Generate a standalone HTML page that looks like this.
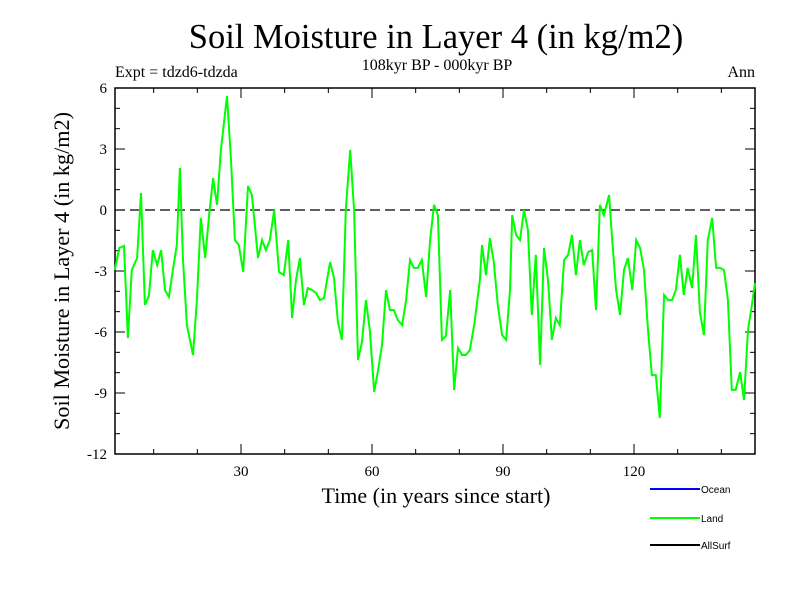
<!DOCTYPE html>
<html><head><meta charset="utf-8"><style>
body{margin:0;background:#fff}
svg text{font-family:"Liberation Serif",serif}
</style></head><body>
<svg id="c" width="800" height="600" xmlns="http://www.w3.org/2000/svg">
<text x="436" y="48" font-size="34.5" text-anchor="middle">Soil Moisture in Layer 4 (in kg/m2)</text>
<text x="437" y="70" font-size="16" text-anchor="middle">108kyr BP - 000kyr BP</text>
<text x="115" y="77" font-size="16">Expt = tdzd6-tdzda</text>
<text x="755" y="77" font-size="16" text-anchor="end">Ann</text>
<text transform="translate(69,271) rotate(-90)" font-size="22.2" text-anchor="middle">Soil Moisture in Layer 4 (in kg/m2)</text>
<text x="436" y="503" font-size="22" text-anchor="middle">Time (in years since start)</text>
<g id="axes"></g>
<g id="series"></g>
<g font-family="Liberation Sans" font-size="10">
<line x1="650" y1="489" x2="700" y2="489" stroke="#0000ff" stroke-width="2"/>
<text x="701" y="493" style="font-family:'Liberation Sans',sans-serif">Ocean</text>
<line x1="650" y1="518" x2="700" y2="518" stroke="#00ff00" stroke-width="2"/>
<text x="701" y="522" style="font-family:'Liberation Sans',sans-serif">Land</text>
<line x1="650" y1="545" x2="700" y2="545" stroke="#000" stroke-width="2"/>
<text x="701" y="549" style="font-family:'Liberation Sans',sans-serif">AllSurf</text>
</g>
</svg>
<script>
const years=[1.1,2.1,3.2,4.1,5.0,6.2,7.1,8.0,8.9,9.8,10.8,11.7,12.6,13.5,14.4,15.3,16.0,16.7,17.6,19.0,19.9,20.8,21.8,22.7,23.6,24.5,25.4,26.8,27.7,28.6,29.5,30.5,31.6,32.5,33.9,34.8,35.7,36.6,37.6,38.7,39.8,40.8,41.7,42.6,43.5,44.4,45.3,46.3,47.2,48.1,49.0,50.4,51.3,52.2,53.1,54.0,55.0,55.9,56.8,57.7,58.6,59.5,60.5,61.4,62.3,63.2,64.1,65.0,65.9,66.9,67.8,68.7,69.6,70.5,71.4,72.4,73.3,74.2,75.1,76.0,76.9,77.9,78.8,79.7,80.6,81.5,82.4,83.4,84.7,85.2,86.1,87.0,87.9,88.8,89.8,90.7,91.6,92.1,93.0,93.9,94.8,95.7,96.6,97.5,98.5,99.4,100.3,101.2,102.1,103.0,104.0,104.9,105.8,106.7,107.6,108.5,109.5,110.4,111.3,112.2,113.1,114.3,115.0,115.9,116.8,117.7,118.6,119.6,120.5,121.4,122.3,123.2,124.1,125.0,125.9,126.9,127.8,128.7,129.6,130.5,131.4,132.3,133.3,134.2,135.1,136.0,136.9,137.9,138.8,139.7,140.6,141.5,142.4,143.3,144.3,145.2,146.1,147.0,147.7];
const land=[-2.95,-1.87,-1.77,-6.30,-2.95,-2.36,0.84,-4.67,-4.23,-1.97,-2.71,-1.97,-3.94,-4.28,-2.95,-1.72,2.07,-2.36,-5.66,-7.13,-4.43,-0.39,-2.36,-0.25,1.57,0.25,2.95,5.61,2.46,-1.48,-1.72,-3.05,1.18,0.74,-2.36,-1.48,-1.97,-1.48,0,-3.05,-3.20,-1.48,-5.31,-3.44,-2.36,-4.67,-3.84,-3.94,-4.08,-4.43,-4.33,-2.56,-3.34,-5.51,-6.39,0,2.95,0,-7.38,-6.49,-4.43,-5.90,-8.95,-7.87,-6.64,-3.94,-4.92,-4.92,-5.41,-5.66,-4.43,-2.46,-2.85,-2.85,-2.46,-4.28,-1.48,0.25,-0.25,-6.39,-6.20,-3.94,-8.85,-6.79,-7.13,-7.13,-6.89,-5.66,-3.44,-1.72,-3.20,-1.38,-2.56,-4.67,-6.15,-6.39,-3.94,-0.25,-1.23,-1.48,0,-0.98,-5.16,-2.21,-7.62,-1.87,-3.44,-6.39,-5.31,-5.66,-2.46,-2.21,-1.23,-3.20,-1.48,-2.71,-2.07,-1.97,-4.92,0.25,-0.25,0.74,-1.48,-3.94,-5.16,-2.95,-2.36,-3.94,-1.48,-1.87,-2.95,-5.90,-8.12,-8.12,-10.23,-4.18,-4.43,-4.43,-3.94,-2.21,-4.18,-2.85,-3.84,-1.23,-5.02,-6.15,-1.48,-0.39,-2.85,-2.85,-2.95,-4.43,-8.85,-8.85,-7.97,-9.35,-5.90,-4.67,-3.59];
const yTicks=[-12,-9,-6,-3,0,3,6];
const xTicks=[30,60,90,120];
const NS="http://www.w3.org/2000/svg";
const L=115,R=755,T=88,B=454;
function xs(v){return 110+v*131/30;}
function ys(v){return T+(6-v)*(B-T)/18;}
function mk(tag,attrs,parent){const e=document.createElementNS(NS,tag);for(const k in attrs)e.setAttribute(k,attrs[k]);parent.appendChild(e);return e;}
const ax=document.getElementById('axes');
const fr=mk('rect',{x:L,y:T,width:R-L,height:B-T,fill:'none',stroke:'#000','stroke-width':1.5},ax);


for(let v=-12;v<=6;v++){const y=ys(v),len=(v%3===0)?10:5;
 const t1=mk('line',{x1:L,y1:y,x2:L+len,y2:y,stroke:'#000'},ax);
 
 
 const t2=mk('line',{x1:R,y1:y,x2:R-len,y2:y,stroke:'#000'},ax);
 
 }
yTicks.forEach(v=>{const t=mk('text',{x:L-8,y:ys(v)+5,'font-size':15,'text-anchor':'end'},ax);t.textContent=v;
 
 });
for(let v=10;v<=140;v+=10){const x=xs(v),len=(v%30===0)?10:5;
 const t1=mk('line',{x1:x,y1:B,x2:x,y2:B-len,stroke:'#000'},ax);
 
 
 const t2=mk('line',{x1:x,y1:T,x2:x,y2:T+len,stroke:'#000'},ax);
 
 }
xTicks.forEach(v=>{const t=mk('text',{x:xs(v),y:B+22,'font-size':15,'text-anchor':'middle'},ax);t.textContent=v;
 
 });
const zl=mk('line',{x1:L,y1:ys(0),x2:R,y2:ys(0),stroke:'#000','stroke-width':1.3,'stroke-dasharray':'10,5'},ax);


const sg=document.getElementById('series');
const pl=mk('polyline',{points:years.map((y,i)=>xs(y).toFixed(1)+','+ys(land[i]).toFixed(1)).join(' '),fill:'none',stroke:'#00ff00','stroke-width':2},sg);


</script>
</body></html>
